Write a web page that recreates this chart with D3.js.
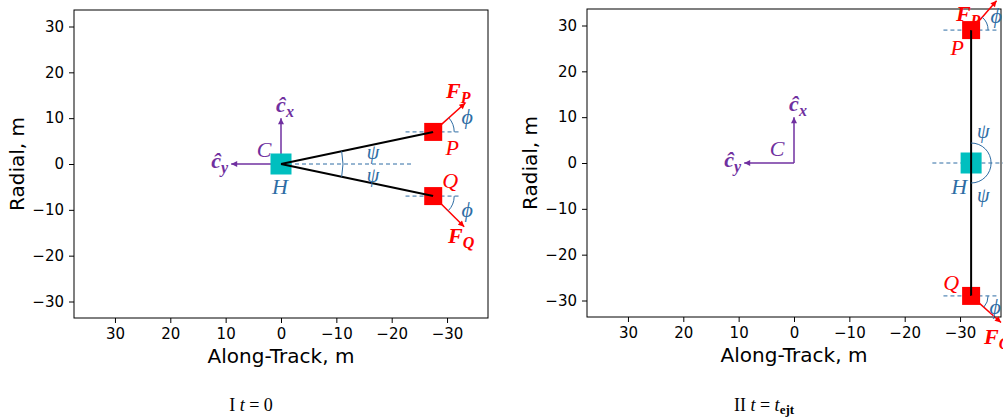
<!DOCTYPE html>
<html>
<head>
<meta charset="utf-8">
<script src="https://cdn.jsdelivr.net/npm/d3@7"></script>
<style>
  body { margin: 0; background: #fff; }
  svg { display: block; }
  .tick text { font-family: "DejaVu Sans", sans-serif; font-size: 15px; fill: #000; }
  .math { font-family: "Liberation Serif", "DejaVu Serif", serif; font-style: italic; }
</style>
</head>
<body>
<div id="chart"></div>
<script>
// Tick values shared by both panels
const xTicks = [30, 20, 10, 0, -10, -20, -30];
const yTicks = [30, 20, 10, 0, -10, -20, -30];
const xDomain = [37.4, -37.4];
const yDomain = [-33.6, 33.6];

// Node positions (along-track, radial) in metres for each panel
const hubPos = [[0, 0], [-32, 0]];
const pPos = [[-27.5, 7], [-32, 29]];
const qPos = [[-27.5, -7], [-32, -29]];
// Thrust vectors drawn at P and Q (metres)
const fP = [[-5.8, 6.3], [-4.6, 6.4]];
const fQ = [[-5.6, -6.7], [-5.4, -5.8]];
// Dashed reference line through H: [start, end] along-track
const hubRef = [[0, -24], [-25, -39]];
// Basis vectors at C (origin)
const cxLen = [10, 10];
const cyLen = [9, 9];
const captions = ["I", "II"];

const W = 1003, H = 418;
const panels = [
  {left: 74, right: 488, top: 10, bottom: 318},
  {left: 587, right: 1001, top: 9, bottom: 317}
];

const purple = "#7030a0", red = "#ff0000", blue = "#2e6da4", cyan = "#00bfbf";

const svg = d3.select("#chart").append("svg")
    .attr("width", W).attr("height", H);

const defs = svg.append("defs");
function marker(id, color) {
  defs.append("marker")
      .attr("id", id)
      .attr("viewBox", "0 0 10 10")
      .attr("refX", 10).attr("refY", 5)
      .attr("markerWidth", 7).attr("markerHeight", 6)
      .attr("markerUnits", "userSpaceOnUse")
      .attr("orient", "auto")
      .append("path")
      .attr("d", "M0,0L10,5L0,10z")
      .attr("fill", color);
}
marker("arrPurple", purple);
marker("arrRed", red);

// label helper: main text + subscript
function label(g, x, y, main, sub, opts) {
  const t = g.append("text")
      .attr("class", "math")
      .attr("x", x).attr("y", y)
      .attr("text-anchor", opts.anchor || "middle")
      .attr("fill", opts.color)
      .style("font-size", (opts.size || 22) + "px")
      .style("font-weight", opts.bold ? "bold" : "normal");
  t.append("tspan").text(main);
  if (sub) {
    t.append("tspan").attr("dy", 5).style("font-size", "16px").text(sub);
  }
  return t;
}

panels.forEach((p, i) => {
  const x = d3.scaleLinear().domain(xDomain).range([p.left, p.right]);
  const y = d3.scaleLinear().domain(yDomain).range([p.bottom, p.top]);
  const g = svg.append("g");

  // Axes
  g.append("g")
      .attr("transform", `translate(0,${p.bottom})`)
      .call(d3.axisBottom(x).tickValues(xTicks).tickSize(5).tickPadding(5))
      .call(a => a.select(".domain").remove());
  g.append("g")
      .attr("transform", `translate(${p.left},0)`)
      .call(d3.axisLeft(y).tickValues(yTicks).tickSize(5).tickPadding(5))
      .call(a => a.select(".domain").remove());
  g.append("rect")
      .attr("x", p.left).attr("y", p.top)
      .attr("width", p.right - p.left).attr("height", p.bottom - p.top)
      .attr("fill", "none").attr("stroke", "#000").attr("stroke-width", 1);

  // Axis labels
  g.append("text")
      .attr("x", (p.left + p.right) / 2).attr("y", p.bottom + 45)
      .attr("text-anchor", "middle")
      .style("font-family", "DejaVu Sans, sans-serif").style("font-size", "20px")
      .text("Along-Track, m");
  g.append("text")
      .attr("transform", `translate(${p.left - 50},${(p.top + p.bottom) / 2}) rotate(-90)`)
      .attr("text-anchor", "middle")
      .style("font-family", "DejaVu Sans, sans-serif").style("font-size", "20px")
      .text("Radial, m");

  const hx = x(hubPos[i][0]), hy = y(hubPos[i][1]);
  const px = x(pPos[i][0]), py = y(pPos[i][1]);
  const qx = x(qPos[i][0]), qy = y(qPos[i][1]);
  const ox = x(0), oy = y(0);

  // Dashed reference lines
  const dash = (x1, x2, yy) => g.append("line")
      .attr("x1", x1).attr("x2", x2).attr("y1", yy).attr("y2", yy)
      .attr("stroke", blue).attr("stroke-width", 1).attr("stroke-dasharray", "4,3");
  dash(x(hubRef[i][0]), x(hubRef[i][1]), hy);
  dash(x(pPos[i][0] + 5), x(pPos[i][0] - 5), py);
  dash(x(qPos[i][0] + 5), x(qPos[i][0] - 5), qy);

  // Basis vectors at C
  g.append("line")
      .attr("x1", ox).attr("y1", oy).attr("x2", ox).attr("y2", y(cxLen[i]))
      .attr("stroke", purple).attr("stroke-width", 1.5).attr("marker-end", "url(#arrPurple)");
  g.append("line")
      .attr("x1", ox).attr("y1", oy).attr("x2", x(cyLen[i])).attr("y2", oy)
      .attr("stroke", purple).attr("stroke-width", 1.5).attr("marker-end", "url(#arrPurple)");

  // Hub square
  g.append("rect")
      .attr("x", hx - 10.5).attr("y", hy - 10.5).attr("width", 21).attr("height", 21)
      .attr("fill", cyan);

  // Tethers
  [[px, py], [qx, qy]].forEach(([tx, ty]) => {
    g.append("rect")
        .attr("x", tx - 9).attr("y", ty - 9).attr("width", 18).attr("height", 18)
        .attr("fill", red);
  });
  [[px, py], [qx, qy]].forEach(([tx, ty]) => {
    g.append("line")
        .attr("x1", hx).attr("y1", hy).attr("x2", tx).attr("y2", ty)
        .attr("stroke", "#000").attr("stroke-width", 2);
  });

  // psi arc at H
  const angP = Math.atan2(py - hy, px - hx);
  const angQ = Math.atan2(qy - hy, qx - hx);
  const rPsi = i === 0 ? 62 : 20;
  const arc = (cx, cy, r, a0, a1) => {
    const path = d3.path();
    path.arc(cx, cy, r, a0, a1, a1 < a0);
    return path.toString();
  };
  g.append("path")
      .attr("d", arc(hx, hy, rPsi, angP, angQ))
      .attr("fill", "none").attr("stroke", blue).attr("stroke-width", 1);

  // Forces and phi arcs
  const forces = [[px, py, fP[i]], [qx, qy, fQ[i]]];
  forces.forEach(([tx, ty, f]) => {
    const ex = x(x.invert(tx) + f[0]), ey = y(y.invert(ty) + f[1]);
    g.append("line")
        .attr("x1", tx).attr("y1", ty).attr("x2", ex).attr("y2", ey)
        .attr("stroke", red).attr("stroke-width", 1.5).attr("marker-end", "url(#arrRed)");
    const a = Math.atan2(ey - ty, ex - tx);
    g.append("path")
        .attr("d", arc(tx, ty, i === 0 ? 21 : 17, 0, a))
        .attr("fill", "none").attr("stroke", blue).attr("stroke-width", 1);
  });

  // Labels
  const phi = "\u03d5", psi = "\u03c8";
  label(g, ox - 17, oy - 7, "C", null, {color: purple});
  label(g, ox + 4, y(cxLen[i]) - 6, "\u0109", "x", {color: purple, bold: true});
  label(g, x(cyLen[i]) - 3, oy + 4, "\u0109", "y", {color: purple, bold: true, anchor: "end"});

  if (i === 0) {
    label(g, hx - 1, hy + 30, "H", null, {color: blue});
    label(g, hx + 92, hy - 5, psi, null, {color: blue, size: 20});
    label(g, hx + 92, hy + 18, psi, null, {color: blue, size: 20});
    label(g, px + 19, py + 23, "P", null, {color: red});
    label(g, qx + 17, qy - 8, "Q", null, {color: red});
    label(g, px + 25, py - 34, "F", "P", {color: red, bold: true});
    label(g, qx + 28, qy + 47, "F", "Q", {color: red, bold: true});
    label(g, px + 34, py - 8, phi, null, {color: blue});
    label(g, qx + 34, qy + 21, phi, null, {color: blue});
  } else {
    label(g, hx - 12, hy + 31, "H", null, {color: blue});
    label(g, hx + 12, hy - 25, psi, null, {color: blue, size: 20});
    label(g, hx + 12, hy + 39, psi, null, {color: blue, size: 20});
    label(g, px - 14, py + 25, "P", null, {color: red});
    label(g, qx - 20, qy - 6, "Q", null, {color: red});
    label(g, px - 3, py - 9, "F", "P", {color: red, bold: true});
    label(g, qx + 26, qy + 48, "F", "Q", {color: red, bold: true});
    label(g, px + 25, py - 7, phi, null, {color: blue});
    label(g, qx + 24, qy + 18, phi, null, {color: blue});
  }

  // Caption
  const cap = svg.append("text")
      .attr("x", (p.left + p.right) / 2 - 30).attr("y", 411)
      .attr("text-anchor", "middle")
      .style("font-family", "Liberation Serif, serif").style("font-size", "18px");
  cap.append("tspan").text(captions[i] + " ");
  cap.append("tspan").style("font-style", "italic").text("t");
  cap.append("tspan").text(" = ");
  if (i === 0) {
    cap.append("tspan").text("0");
  } else {
    cap.append("tspan").style("font-style", "italic").text("t");
    cap.append("tspan").attr("dy", 3).style("font-weight", "bold").style("font-size", "13px").text("ejt");
  }
});
</script>
</body>
</html>
